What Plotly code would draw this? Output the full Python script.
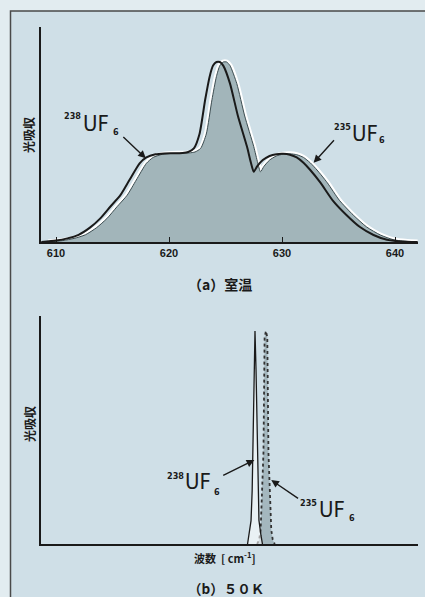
import plotly.graph_objects as go

W, H = 425, 597

# ---- (a) room temperature spectra (relative absorbance, main peak = 1) ----
wn_238 = [608.7, 610.0, 611.0, 612.0, 613.0, 613.9, 614.8, 615.7, 616.5, 617.4,
          618.0, 618.8, 619.6, 620.4, 621.2, 621.7, 622.2, 622.7, 623.2, 623.6,
          623.9, 624.2, 624.5, 624.8, 625.4, 626.1, 626.9, 627.25, 627.5, 627.8,
          628.3, 628.9, 629.5, 630.1, 630.7, 631.3, 631.9, 632.5, 633.4, 634.5,
          635.7, 636.9, 638.1, 639.3, 640.5, 642.0]
abs_238 = [0.0, 0.008, 0.02, 0.04, 0.08, 0.13, 0.196, 0.26, 0.344, 0.437,
           0.47, 0.487, 0.492, 0.493, 0.495, 0.50, 0.52, 0.60, 0.79, 0.92,
           0.98, 1.0, 1.0, 0.98, 0.88, 0.70, 0.53, 0.44, 0.39, 0.42,
           0.455, 0.478, 0.488, 0.49, 0.485, 0.47, 0.44, 0.40, 0.33, 0.23,
           0.15, 0.083, 0.039, 0.012, 0.003, 0.0]

wn_235 = [609.3, 610.6, 611.6, 612.6, 613.6, 614.5, 615.4, 616.3, 617.1, 618.0,
          618.6, 619.4, 620.2, 621.0, 621.8, 622.3, 622.8, 623.3, 623.8, 624.2,
          624.5, 624.8, 625.1, 625.4, 626.0, 626.7, 627.5, 627.85, 628.1, 628.4,
          628.9, 629.5, 630.1, 630.7, 631.3, 631.9, 632.5, 633.1, 634.0, 635.1,
          636.3, 637.5, 638.7, 639.9, 641.1, 642.0]
abs_235 = [0.0, 0.008, 0.02, 0.04, 0.08, 0.13, 0.196, 0.26, 0.344, 0.437,
           0.47, 0.487, 0.492, 0.493, 0.495, 0.50, 0.52, 0.60, 0.79, 0.92,
           0.98, 1.0, 1.0, 0.98, 0.88, 0.70, 0.53, 0.44, 0.39, 0.42,
           0.455, 0.478, 0.488, 0.49, 0.485, 0.47, 0.44, 0.40, 0.33, 0.23,
           0.15, 0.083, 0.039, 0.012, 0.003, 0.0]

# ---- (b) 50 K spectra ----
wn_238_50k = [626.95, 627.08, 627.26, 627.36, 627.43, 627.52, 627.61, 627.70,
              627.79, 627.86, 627.96, 628.14, 628.27]
abs_238_50k = [0.0, 0.04, 0.11, 0.25, 0.53, 0.82, 1.0, 0.82,
               0.53, 0.25, 0.11, 0.04, 0.0]
wn_235_50k = [627.80, 627.98, 628.11, 628.18, 628.36, 628.46, 628.58, 628.70,
              628.80, 628.98, 629.05, 629.18, 629.36]
abs_235_50k = [0.0, 0.02, 0.066, 0.17, 0.43, 0.97, 1.0, 0.97,
               0.43, 0.17, 0.066, 0.02, 0.0]

xtick_vals = [610, 620, 630, 640]
xtick_text = ["610", "620", "630", "640"]

BG = "#cfdfe7"
FILL = "#a2b5ba"
INK = "#1a1a1a"
CJK = "Noto Sans CJK JP"
COND = "DejaVu Sans Condensed, Liberation Sans"


def px(x):
    return x / W


def py(y):
    return 1 - y / H


fig = go.Figure()

# (a) white halo around 235 curve
fig.add_trace(go.Scatter(x=wn_235, y=abs_235, mode="lines",
                         line=dict(color="white", width=5, shape="spline", smoothing=0.6),
                         hoverinfo="skip", xaxis="x", yaxis="y"))
# (a) filled 235 curve
fig.add_trace(go.Scatter(x=wn_235, y=abs_235, mode="lines", fill="tozeroy",
                         fillcolor=FILL,
                         line=dict(color="#3c4c50", width=1, shape="spline", smoothing=0.6),
                         hoverinfo="skip", xaxis="x", yaxis="y"))
# (a) 238 curve
fig.add_trace(go.Scatter(x=wn_238, y=abs_238, mode="lines",
                         line=dict(color=INK, width=2, shape="spline", smoothing=0.6),
                         hoverinfo="skip", xaxis="x", yaxis="y"))

# (b) 235 peak
fig.add_trace(go.Scatter(x=wn_235_50k, y=abs_235_50k, mode="lines", fill="tozeroy",
                         fillcolor="rgba(150,170,176,0.75)",
                         line=dict(color="#333", width=1.8, dash="dot"),
                         hoverinfo="skip", xaxis="x2", yaxis="y2"))
# (b) 238 peak
fig.add_trace(go.Scatter(x=wn_238_50k, y=abs_238_50k, mode="lines", fill="tozeroy",
                         fillcolor="rgba(255,255,255,0.55)",
                         line=dict(color=INK, width=1.3),
                         hoverinfo="skip", xaxis="x2", yaxis="y2"))

xr = [608.673, 642.035]
axis_common = dict(showline=True, linecolor=INK, linewidth=1.5, showgrid=False,
                   zeroline=False, fixedrange=True)

fig.update_layout(
    width=W, height=H,
    margin=dict(l=0, r=0, t=0, b=0),
    paper_bgcolor="#e2ecf0",
    plot_bgcolor="rgba(0,0,0,0)",
    showlegend=False,
    xaxis=dict(domain=[px(41), px(418)], range=xr, anchor="y",
               ticks="inside", ticklen=5, tickwidth=1.2, tickcolor=INK,
               tickvals=xtick_vals, ticktext=xtick_text,
               tickfont=dict(family="Liberation Sans, Arial", size=11, color=INK, weight="bold"),
               **axis_common),
    yaxis=dict(domain=[py(242), py(27)], range=[0, 215 / 180], anchor="x",
               showticklabels=False, ticks="", **axis_common),
    xaxis2=dict(domain=[px(41), px(418)], range=xr, anchor="y2",
                showticklabels=False, ticks="", **axis_common),
    yaxis2=dict(domain=[py(544), py(316)], range=[0, 228 / 213], anchor="x2",
                showticklabels=False, ticks="", **axis_common),
    shapes=[
        dict(type="rect", xref="paper", yref="paper",
             x0=px(10.5), x1=px(440), y0=py(610), y1=py(11),
             fillcolor=BG, line=dict(color="#4a4a4a", width=1.5), layer="below"),
    ],
)

ann = []


def text(s, cx, cy, size, family, weight="normal", angle=0):
    ann.append(dict(text=s, x=px(cx), y=py(cy), xref="paper", yref="paper",
                    xanchor="center", yanchor="middle", showarrow=False,
                    textangle=angle,
                    font=dict(family=family, size=size, color=INK, weight=weight)))


def arrow(xd, yd, ax, ay, xa, ya):
    ann.append(dict(text="", x=xd, y=yd, xref=xa, yref=ya, ax=ax, ay=ay,
                    showarrow=True, arrowhead=2, arrowsize=1.1, arrowwidth=1.4,
                    arrowcolor=INK, standoff=0, startstandoff=0))


# axis titles / captions
text("光吸収", 28, 135, 12, CJK, "bold", -90)
text("光吸収", 29, 424, 12, CJK, "bold", -90)
text("（a）室温", 220, 284, 14, CJK, "bold")
text("波数  [ cm<sup>-1</sup>]", 225, 557, 11, CJK, "bold")
text("（b）５０Ｋ", 226, 587.5, 13.5, CJK, "bold")

# isotope labels (a)
text("238", 72.5, 115.5, 9, COND, "bold")
text("UF", 96, 123, 22, COND)
text("6", 116, 132, 9, COND, "bold")
text("235", 342.5, 126.7, 9, COND, "bold")
text("UF", 365, 134, 22, COND)
text("6", 381.8, 139.5, 9, COND, "bold")
# isotope labels (b)
text("238", 175.5, 476, 9, COND, "bold")
text("UF", 198.3, 481.3, 22, COND)
text("6", 216.5, 492, 9, COND, "bold")
text("235", 308.5, 502.7, 9, COND, "bold")
text("UF", 332, 509, 22, COND)
text("6", 351.5, 518, 9, COND, "bold")

# arrows
arrow(617.95, 0.465, -24, -22.6, "x", "y")
arrow(632.8, 0.44, 21.7, -24, "x", "y")
arrow(627.55, 0.394, -32.6, 16, "x2", "y2")
arrow(629.05, 0.30, 28.3, 19.3, "x2", "y2")

fig.update_layout(annotations=ann)

fig.write_html("out.html",
               config={"displayModeBar": False},
               post_script="document.body.style.margin='0px';document.body.style.overflow='hidden';")
